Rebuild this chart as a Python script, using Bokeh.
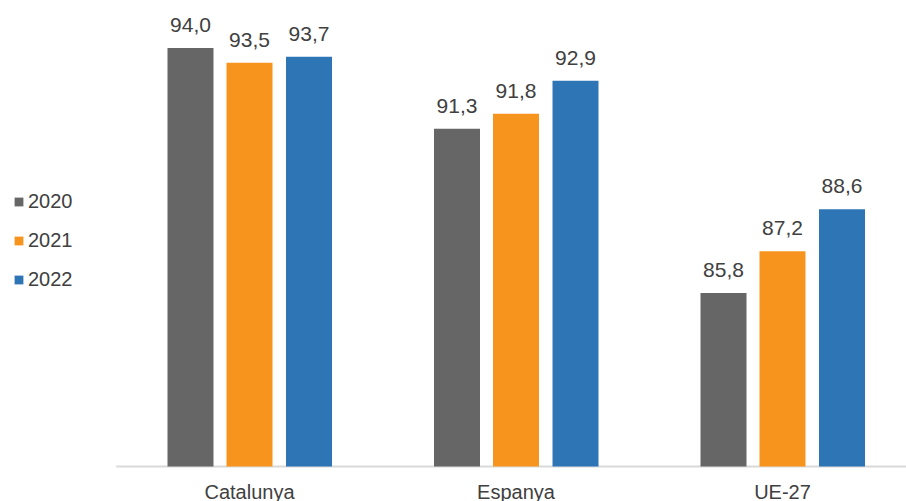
from bokeh.plotting import figure
from bokeh.models import ColumnDataSource, Range1d, LabelSet, Legend, LegendItem
from bokeh.core.properties import value
from bokeh.embed import file_html
from bokeh.resources import INLINE

categories = ["Catalunya", "Espanya", "UE-27"]
years = ["2020", "2021", "2022"]
v2020 = [94.0, 91.3, 85.8]
v2021 = [93.5, 91.8, 87.2]
v2022 = [93.7, 92.9, 88.6]
colors = ["#666666", "#F7941D", "#2E75B6"]

FONT = "Liberation Sans"
TXT = "#404040"
BASE = 80

W, H = 906, 501
PX_X = 266.5   # px per category
PX_Y = 29.9    # px per unit
c0 = 249       # px of first category center
base_px = 466  # px of baseline from top

x_start = -c0 / PX_X
x_end = (W - c0) / PX_X
y_end = BASE + base_px / PX_Y
y_start = BASE - (H - base_px) / PX_Y

p = figure(width=W, height=H, output_backend="svg", toolbar_location=None,
           x_range=Range1d(x_start, x_end), y_range=Range1d(y_start, y_end),
           min_border=0)
p.outline_line_color = None
p.grid.visible = False
p.axis.visible = False
p.background_fill_color = "white"

# baseline (category axis line)
p.segment(x0=[-0.5], y0=[BASE], x1=[x_end], y1=[BASE], line_color="#D9D9D9", line_width=2)

offsets = [-0.2214, 0.0, 0.2233]
width = 0.1726
items = []
for yr, vals, col, off in zip(years, [v2020, v2021, v2022], colors, offsets):
    xs = [i + off for i in range(len(categories))]
    src = ColumnDataSource(dict(x=xs, top=vals, lab=[f"{v:.1f}".replace(".", ",") for v in vals]))
    r = p.vbar(x="x", top="top", bottom=BASE, width=width, source=src,
               fill_color=col, line_color=None)
    items.append(LegendItem(label=yr, renderers=[r]))
    p.add_layout(LabelSet(x="x", y="top", text="lab", source=src, text_align="center",
                          text_baseline="alphabetic", y_offset=16,
                          text_font=value(FONT), text_font_size=value("21px"), text_color=TXT))

cat_src = ColumnDataSource(dict(x=list(range(len(categories))), y=[BASE] * len(categories), t=categories))
p.add_layout(LabelSet(x="x", y="y", text="t", source=cat_src, text_align="center",
                      text_baseline="alphabetic", y_offset=-32,
                      text_font=value(FONT), text_font_size=value("20px"), text_color=TXT))

legend = Legend(items=items, location=(13, 210), orientation="vertical",
                glyph_width=11, glyph_height=11, label_height=20, spacing=16,
                label_standoff=4, padding=0, margin=0,
                border_line_color=None, background_fill_alpha=0,
                label_text_font=FONT, label_text_font_size="20px", label_text_color=TXT)
p.add_layout(legend, "center")

open("out.html", "w").write(file_html(p, INLINE))
